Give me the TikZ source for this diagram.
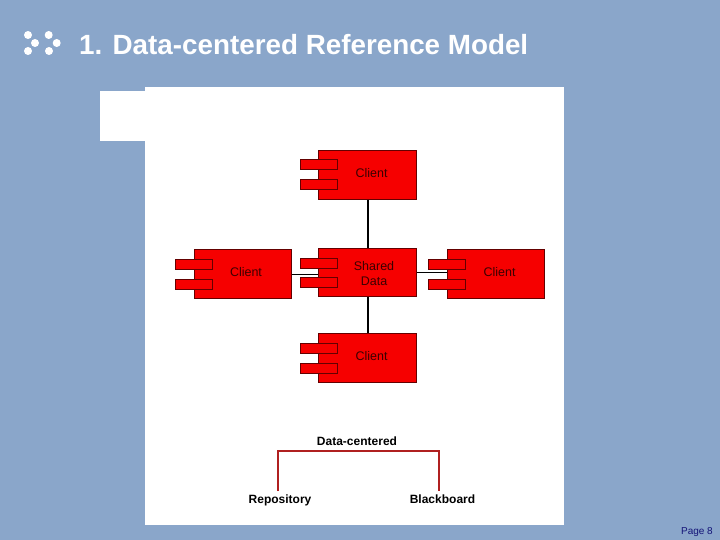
\documentclass[tikz,border=0pt]{standalone}
\usepackage{fontspec}
\setmainfont{Liberation Sans}
\definecolor{slide}{RGB}{138, 166, 202}
\definecolor{compred}{RGB}{246, 0, 0}
\definecolor{compedge}{RGB}{100, 0, 0}
\definecolor{treered}{RGB}{176, 32, 32}
\definecolor{pagenum}{RGB}{20, 20, 120}
\usetikzlibrary{positioning}

\begin{document}
\begin{tikzpicture}[
        x=1pt, y=-1pt,
        panel/.style={fill=white, draw=none},
        dot/.style={circle, fill=white, inner sep=0pt, minimum size=8pt},
        comp/.style={rectangle, draw=compedge, line width=1.1pt, fill=compred, inner sep=0pt, minimum width=97.5pt, minimum height=48.5pt},
        port/.style={rectangle, draw=compedge, line width=1pt, fill=compred, inner sep=0pt, minimum width=37pt, minimum height=10pt},
        ctext/.style={font=\fontsize{12.5}{14}\selectfont, text=compedge!60!black, align=center, inner sep=0pt},
        ttext/.style={font=\fontsize{12}{14}\selectfont\bfseries, text=black, inner sep=0pt, anchor=base},
        conn/.style={draw=black, line width=1pt},
        bus/.style={draw=black, line width=2pt},
        tree/.style={draw=treered, line width=1.6pt}
    ]
        \useasboundingbox (0,0) rectangle (720,540);
        \fill[slide] (0,0) rectangle (720,540);

        % Titel
        \node[dot] (d1) at (28,35) {};
        \node[dot] (d2) at (48.7,35) {};
        \node[dot] (d3) at (35,43) {};
        \node[dot] (d4) at (56.7,43) {};
        \node[dot] (d5) at (28,51) {};
        \node[dot] (d6) at (49,51) {};
        \node[anchor=base west, inner sep=0pt, text=white, font=\fontsize{27.8}{30}\selectfont\bfseries] (title) at (79,55) {1. Data-centered Reference Model};

        % Weisse Flaeche
        \fill[panel] (100,91) rectangle (145,141);
        \fill[panel] (145,87) rectangle (564,525);

        % Komponenten
        \node[comp] (top) at (367.5,175) {};
        \node[comp] (shared) at (367.5,272.5) {};
        \node[comp] (left) at (243,274) {};
        \node[comp] (right) at (496,274) {};
        \node[comp] (bottom) at (367.5,358) {};

        % Ports
        \node[port] (top1) at (319,165) {};
        \node[port] (top2) at (319,185) {};
        \node[port] (sh1) at (319,263) {};
        \node[port] (sh2) at (319,282.5) {};
        \node[port] (le1) at (193.5,264.5) {};
        \node[port] (le2) at (193.5,284) {};
        \node[port] (ri1) at (446.5,264.5) {};
        \node[port] (ri2) at (446.5,284) {};
        \node[port] (bo1) at (318.5,348) {};
        \node[port] (bo2) at (318.5,368) {};

        % Beschriftung
        \node[ctext] (toptxt) at (371.5,173) {Client};
        \node[ctext] (shtxt) at (374,273.5) {Shared\\[1pt]Data};
        \node[ctext] (letxt) at (246,272.5) {Client};
        \node[ctext] (ritxt) at (499.5,272.5) {Client};
        \node[ctext] (botxt) at (371.5,356) {Client};

        % Verbindungen
        \draw[bus] (top.south) -- (shared.north);
        \draw[bus] (shared.south) -- (bottom.north);
        \draw[conn] (left.east) -- (left.east -| shared.west);
        \draw[conn] (shared.east) -- (shared.east -| right.west);

        % Taxonomie
        \node[ttext] (dc) at (357,445.5) {Data-centered};
        \node[ttext] (repo) at (280,503.5) {Repository};
        \node[ttext] (black) at (442.5,503.5) {Blackboard};
        \coordinate (tl) at (278,451);
        \coordinate (tr) at (439,451);
        \coordinate (rt) at (278,491);
        \coordinate (bt) at (439,491);
        \draw[tree] (rt) -- (tl) -- (tr) -- (bt);

        \node[anchor=base east, inner sep=0pt, text=pagenum, font=\fontsize{10}{12}\selectfont] (page) at (713,534) {Page 8};
    \end{tikzpicture}
\end{document}
